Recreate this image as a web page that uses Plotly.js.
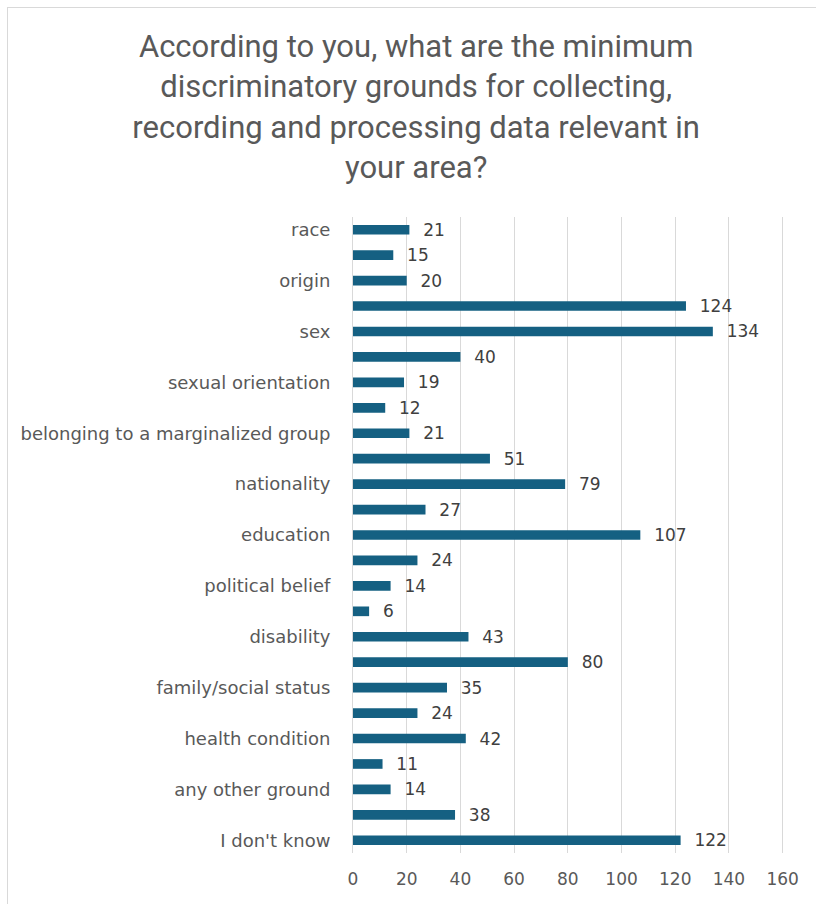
<!DOCTYPE html>
<html>
<head>
<meta charset="utf-8">
<script src="https://cdn.plot.ly/plotly-3.0.1.min.js"></script>
<style>
  html, body { margin: 0; padding: 0; background: #ffffff; }
  #frame { position: absolute; left: 7px; top: 7px; width: 820px; height: 910px; border-left: 1px solid #d9d9d9; border-top: 1px solid #d9d9d9; }
  #chart { position: absolute; left: 0; top: 0; width: 816px; height: 904px; }
</style>
</head>
<body>
<div id="frame"></div>
<div id="chart"></div>
<script>
// Categories in chart order (top to bottom); unlabeled rows carry placeholder names
const categories = [
  "race", "row 2", "origin", "row 4", "sex", "row 6",
  "sexual orientation", "row 8", "belonging to a marginalized group", "row 10",
  "nationality", "row 12", "education", "row 14", "political belief", "row 16",
  "disability", "row 18", "family/social status", "row 20", "health condition",
  "row 22", "any other ground", "row 24", "I don't know"
];
const values = [21, 15, 20, 124, 134, 40, 19, 12, 21, 51, 79, 27, 107, 24, 14, 6, 43, 80, 35, 24, 42, 11, 14, 38, 122];
const shownLabels = [
  "race", "origin", "sex", "sexual orientation", "belonging to a marginalized group",
  "nationality", "education", "political belief", "disability",
  "family/social status", "health condition", "any other ground", "I don't know"
];
const xTicks = [0, 20, 40, 60, 80, 100, 120, 140, 160];
const titleText = "According to you, what are the minimum<br>discriminatory grounds for collecting,<br>recording and processing data relevant in<br>your area?";

const labelFont = "DejaVu Sans, sans-serif";

const trace = {
  type: "bar",
  orientation: "h",
  y: categories,
  x: values,
  marker: { color: "#156082" },
  text: values.map(String),
  texttemplate: "  %{x}",
  textposition: "outside",
  constraintext: "none",
  cliponaxis: false,
  textfont: { family: labelFont, size: 17, color: "#404040" },
  hoverinfo: "x+y"
};

const layout = {
  width: 816,
  height: 904,
  paper_bgcolor: "rgba(0,0,0,0)",
  plot_bgcolor: "rgba(0,0,0,0)",
  margin: { l: 353, r: 32, t: 217, b: 51 },
  showlegend: false,
  bargap: 0.62,
  title: {
    text: titleText,
    x: 0.51,
    xref: "container",
    xanchor: "center",
    y: 0.937,
    yref: "container",
    yanchor: "middle",
    font: { family: "Roboto, sans-serif", size: 31, color: "#595959" }
  },
  xaxis: {
    range: [0, 160.5],
    tickvals: xTicks,
    showgrid: true,
    gridcolor: "#d9d9d9",
    gridwidth: 1,
    zeroline: false,
    showline: false,
    ticks: "",
    ticklabelstandoff: 14,
    tickfont: { family: labelFont, size: 17, color: "#595959" },
    fixedrange: true
  },
  yaxis: {
    type: "category",
    categoryorder: "array",
    categoryarray: categories,
    autorange: "reversed",
    tickmode: "array",
    tickvals: shownLabels,
    ticktext: shownLabels,
    showgrid: false,
    zeroline: false,
    showline: true,
    linecolor: "#d9d9d9",
    linewidth: 1,
    ticks: "",
    ticklabelstandoff: 18,
    tickfont: { family: labelFont, size: 18, color: "#595959" },
    fixedrange: true
  }
};

Plotly.newPlot("chart", [trace], layout, { displayModeBar: false, staticPlot: true });
</script>
</body>
</html>
